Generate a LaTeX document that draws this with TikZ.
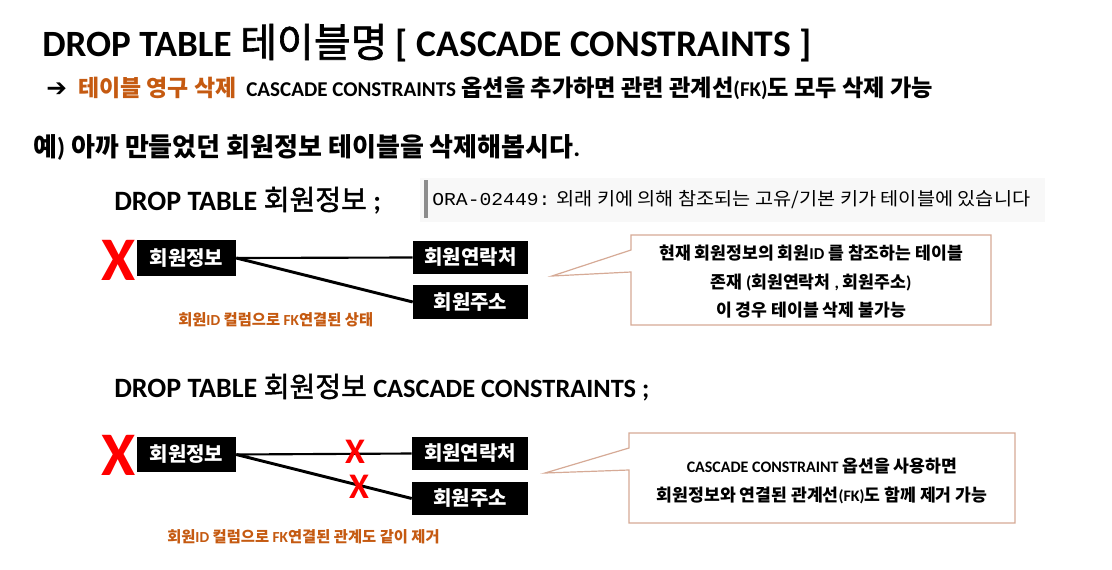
\documentclass[tikz,border=0pt]{standalone}
\usepackage{fontspec}
\setmainfont{Noto Sans CJK KR}
\newfontfamily\krmed{Noto Sans CJK KR}[FakeBold=1.6]
\newfontfamily\lat{Carlito}
\newfontfamily\dejavu{DejaVu Sans}
\newfontfamily\monofnt{Liberation Mono}
\newcommand\EN[1]{{\lat #1}}
\newcommand\FS[2]{\fontsize{#1}{#2}\selectfont}
\definecolor{orng}{RGB}{197,90,17}
\definecolor{callln}{RGB}{214,170,150}
\definecolor{errbg}{RGB}{248,248,248}
\definecolor{errbar}{RGB}{140,140,140}
\begin{document}
\begin{tikzpicture}[x=0.75pt,y=-0.75pt,
  tbox/.style={fill=black,text=white,inner sep=0pt,font=\bfseries\FS{15}{18}},
  bigx/.style={text=red,inner sep=0pt,font=\lat\bfseries\FS{46.5}{50}},
  smallx/.style={text=red,inner sep=0pt,font=\lat\bfseries\FS{27}{30}},
  link/.style={line width=1.6pt},
  linkd/.style={line width=2.2pt},
  captxt/.style={text=orng,inner sep=0pt,anchor=base west,font=\bfseries\FS{11.5}{13}},
  callout/.style={draw=callln,line width=0.9pt,fill=white},
  calltext/.style={inner sep=0pt,align=center,font=\bfseries\FS{12.9}{21.4}},
  txt/.style={inner sep=0pt,anchor=base west}]
\useasboundingbox (0,0) rectangle (1112,570);
\fill[white] (0,0) rectangle (1112,570);

% title
\node[txt,font=\bfseries\FS{27.8}{30}] (title) at (42,57)
  {\EN{DROP TABLE} {\krmed\mdseries\FS{30}{30}테이블명} {\lat\FS{28.2}{30}[ CASCADE CONSTRAINTS ]}};
% line 2
\node[txt,font=\dejavu\FS{18.5}{20}] (arr) at (46,97) {➔};
\node[txt,text=orng,font=\bfseries\FS{17.2}{18}] (perm) at (78,97) {테이블 영구 삭제};
\node[txt,font=\bfseries\FS{17.4}{18}] (desc) at (246,97)
  {{\lat\FS{15.8}{18}CASCADE CONSTRAINTS} 옵션을 추가하면 관련 관계선{\lat\FS{15.8}{18}(FK)}도 모두 삭제 가능};
% line 3
\node[txt,font=\bfseries\FS{19.5}{20}] (ex) at (33,157)
  {예\EN{)} 아까 만들었던 회원정보 테이블을 삭제해봅시다\EN{.}};

% first command
\node[txt,font=\bfseries\FS{21}{24}] (cmd1) at (114,210)
  {\EN{DROP TABLE} {\krmed\mdseries 회원정보} \EN{;}};
% error message
\fill[errbg] (420,178) rectangle (1045,222);
\fill[errbar] (424,180) rectangle (428,218);
\node[txt,font=\FS{13.6}{16}] (err) at (432,205)
  {\scalebox{1.087}[1]{{\monofnt ORA-02449:} 외래 키에 의해 참조되는 고유/기본 키가 테이블에 있습니다}};

% diagram 1
\node[bigx] (x1) at (119,260) {X};
\node[tbox,minimum width=74.25pt,minimum height=27pt] (a1) at (186.5,258) {회원정보};
\node[tbox,minimum width=86.25pt,minimum height=24.75pt] (b1) at (470.5,257.5) {회원연락처};
\node[tbox,minimum width=86.25pt,minimum height=25.5pt] (c1) at (470.5,302) {회원주소};
\draw[link] (a1.east) -- (b1.west);
\draw[linkd] (a1.east) -- (c1.west);
\node[captxt] (cap1) at (178,325) {회원\EN{ID} 컬럼으로 \EN{FK}연결된 상태};

% callout 1
\draw[callout] (631,235) -- (991,235) -- (991,325) -- (631,325) -- (631,272) -- (552,276) -- (631,250) -- cycle;
\node[calltext] (t1) at (811,282) {현재 회원정보의 회원{\lat\FS{12.5}{21.4}ID} 를 참조하는 테이블\\존재 \EN{(}회원연락처 \EN{,} 회원주소\EN{)}\\이 경우 테이블 삭제 불가능};

% second command
\node[txt,font=\bfseries\FS{21}{24}] (cmd2) at (114,397)
  {\EN{DROP TABLE} {\krmed\mdseries 회원정보} {\lat\FS{19.8}{24}CASCADE CONSTRAINTS ;}};

% diagram 2
\node[bigx] (x2) at (119,455) {X};
\node[tbox,minimum width=74.25pt,minimum height=26.25pt] (a2) at (186.5,454.5) {회원정보};
\node[tbox,minimum width=87pt,minimum height=24.75pt] (b2) at (470,453.5) {회원연락처};
\node[tbox,minimum width=87pt,minimum height=24.75pt] (c2) at (470,498.5) {회원주소};
\draw[link] (a2.east) -- (b2.west);
\draw[linkd] (a2.east) -- (c2.west);
\node[smallx] (sx1) at (355,452) {X};
\node[smallx] (sx2) at (359,487) {X};
\node[captxt] (cap2) at (167,542) {회원\EN{ID} 컬럼으로 \EN{FK}연결된 관계도 같이 제거};

% callout 2
\draw[callout] (629,433) -- (1015,433) -- (1015,523) -- (629,523) -- (629,470) -- (545,473) -- (629,448) -- cycle;
\node[calltext] (t2) at (822,481) {{\lat\FS{12}{21.4}CASCADE CONSTRAINT} 옵션을 사용하면\\회원정보와 연결된 관계선{\lat\FS{12}{21.4}(FK)}도 함께 제거 가능};
\end{tikzpicture}
\end{document}
